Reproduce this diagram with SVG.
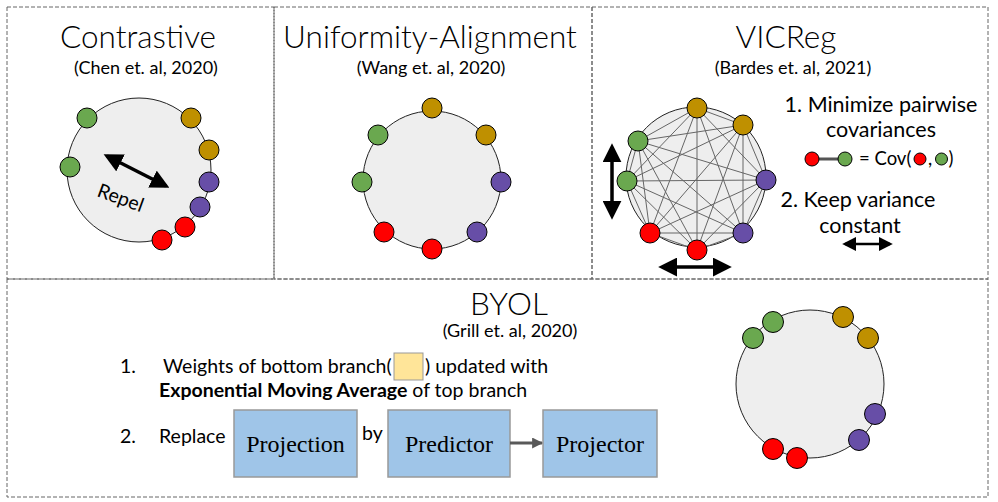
<svg xmlns="http://www.w3.org/2000/svg" width="998" height="502" viewBox="0 0 998 502">
<style>
.panel{fill:none;stroke:#666;stroke-width:1;stroke-dasharray:4 2}
.title{font-family:Lato,"Open Sans",sans-serif;font-size:31.5px;font-weight:300;fill:#000;text-anchor:middle}
.sub{font-family:Lato,"Open Sans",sans-serif;font-size:18px;fill:#000;text-anchor:middle}
.txt{font-family:Lato,"Open Sans",sans-serif;font-size:19.5px;fill:#000}
.vtx{font-family:Lato,"Open Sans",sans-serif;font-size:21.5px;fill:#000;text-anchor:middle}
.cov{font-family:Lato,"Open Sans",sans-serif;font-size:18.5px;fill:#000}
.big{fill:#eeeeee;stroke:#222;stroke-width:1}
.g{fill:#6aa84f;stroke:#000;stroke-width:1}
.y{fill:#bf9000;stroke:#000;stroke-width:1}
.p{fill:#674ea7;stroke:#000;stroke-width:1}
.r{fill:#ff0000;stroke:#000;stroke-width:1}
.box{fill:#9fc5e8;stroke:#999;stroke-width:1.5}
.blab{font-family:"Liberation Serif","Times New Roman",serif;font-size:24px;fill:#000;text-anchor:middle}
.dbl{stroke:#000;stroke-width:3.5;fill:none}
.edge{stroke:#666;stroke-width:1}
</style>
<defs>
<marker id="ah" viewBox="0 0 10 10" refX="8" refY="5" markerUnits="userSpaceOnUse" markerWidth="19" markerHeight="19" orient="auto-start-reverse">
<path d="M0,0 L10,5 L0,10 z" fill="#000"/>
</marker>
<marker id="ahs" viewBox="0 0 10 10" refX="8" refY="5" markerUnits="userSpaceOnUse" markerWidth="14" markerHeight="14" orient="auto-start-reverse">
<path d="M0,0 L10,5 L0,10 z" fill="#000"/>
</marker>
<marker id="gh" viewBox="0 0 10 10" refX="9" refY="5" markerUnits="userSpaceOnUse" markerWidth="11" markerHeight="11" orient="auto">
<path d="M0,0 L10,5 L0,10 z" fill="#595959"/>
</marker>
</defs>

<g id="panels">
<rect class="panel" x="7" y="7" width="267" height="272"/>
<rect class="panel" x="274" y="7" width="318" height="272"/>
<rect class="panel" x="592" y="7" width="396" height="272"/>
<rect class="panel" x="7" y="279" width="981" height="218"/>
</g>

<g id="contrastive">
<text class="title" x="138" y="48">Contrastive</text>
<text class="sub" x="146" y="74">(Chen et. al, 2020)</text>
<circle class="big" cx="139" cy="170" r="72"/>
<circle class="g" cx="87" cy="118" r="10"/>
<circle class="g" cx="70" cy="167" r="10"/>
<circle class="y" cx="191" cy="118" r="10"/>
<circle class="y" cx="209" cy="150" r="10"/>
<circle class="p" cx="209" cy="182" r="10"/>
<circle class="p" cx="200" cy="207" r="10"/>
<circle class="r" cx="185" cy="227" r="10"/>
<circle class="r" cx="162" cy="240" r="10"/>
<line class="dbl" x1="107" y1="156" x2="166" y2="186" marker-start="url(#ah)" marker-end="url(#ah)"/>
<text class="txt" x="0" y="0" transform="translate(96,196) rotate(20)">Repel</text>
</g>

<g id="uniformity">
<text class="title" x="430" y="48">Uniformity-Alignment</text>
<text class="sub" x="431" y="74">(Wang et. al, 2020)</text>
<circle class="big" cx="432" cy="180" r="69"/>
<circle class="y" cx="432" cy="108" r="10"/>
<circle class="y" cx="486" cy="135" r="10"/>
<circle class="p" cx="501" cy="182" r="10"/>
<circle class="p" cx="477" cy="232" r="10"/>
<circle class="r" cx="432" cy="249" r="10"/>
<circle class="r" cx="384" cy="232" r="10"/>
<circle class="g" cx="362" cy="182" r="10"/>
<circle class="g" cx="378" cy="135" r="10"/>
</g>

<g id="vicreg">
<text class="title" x="786" y="48">VICReg</text>
<text class="sub" x="793" y="74">(Bardes et. al, 2021)</text>
<circle class="big" cx="696" cy="177" r="70" stroke-width="1.5"/>
<g id="vic-edges">
<line class="edge" x1="697" y1="108" x2="743" y2="125"/>
<line class="edge" x1="697" y1="108" x2="766" y2="180"/>
<line class="edge" x1="697" y1="108" x2="743" y2="233"/>
<line class="edge" x1="697" y1="108" x2="697" y2="250"/>
<line class="edge" x1="697" y1="108" x2="650" y2="233"/>
<line class="edge" x1="697" y1="108" x2="627" y2="181"/>
<line class="edge" x1="697" y1="108" x2="638" y2="141"/>
<line class="edge" x1="743" y1="125" x2="766" y2="180"/>
<line class="edge" x1="743" y1="125" x2="743" y2="233"/>
<line class="edge" x1="743" y1="125" x2="697" y2="250"/>
<line class="edge" x1="743" y1="125" x2="650" y2="233"/>
<line class="edge" x1="743" y1="125" x2="627" y2="181"/>
<line class="edge" x1="743" y1="125" x2="638" y2="141"/>
<line class="edge" x1="766" y1="180" x2="743" y2="233"/>
<line class="edge" x1="766" y1="180" x2="697" y2="250"/>
<line class="edge" x1="766" y1="180" x2="650" y2="233"/>
<line class="edge" x1="766" y1="180" x2="627" y2="181"/>
<line class="edge" x1="766" y1="180" x2="638" y2="141"/>
<line class="edge" x1="743" y1="233" x2="697" y2="250"/>
<line class="edge" x1="743" y1="233" x2="650" y2="233"/>
<line class="edge" x1="743" y1="233" x2="627" y2="181"/>
<line class="edge" x1="743" y1="233" x2="638" y2="141"/>
<line class="edge" x1="697" y1="250" x2="650" y2="233"/>
<line class="edge" x1="697" y1="250" x2="627" y2="181"/>
<line class="edge" x1="697" y1="250" x2="638" y2="141"/>
<line class="edge" x1="650" y1="233" x2="627" y2="181"/>
<line class="edge" x1="650" y1="233" x2="638" y2="141"/>
<line class="edge" x1="627" y1="181" x2="638" y2="141"/>
</g>
<circle class="y" cx="697" cy="108" r="10"/>
<circle class="y" cx="743" cy="125" r="10"/>
<circle class="p" cx="766" cy="180" r="10"/>
<circle class="p" cx="743" cy="233" r="10"/>
<circle class="r" cx="697" cy="250" r="10"/>
<circle class="r" cx="650" cy="233" r="10"/>
<circle class="g" cx="627" cy="181" r="10"/>
<circle class="g" cx="638" cy="141" r="10"/>
<line class="dbl" x1="612" y1="147" x2="612" y2="216" marker-start="url(#ah)" marker-end="url(#ah)"/>
<line class="dbl" x1="662" y1="267" x2="728" y2="267" marker-start="url(#ah)" marker-end="url(#ah)"/>
<text class="vtx" x="881" y="112">1. Minimize pairwise</text>
<text class="vtx" x="881" y="137">covariances</text>
<line x1="812" y1="159" x2="845" y2="159" stroke="#555" stroke-width="3"/>
<circle class="r" cx="812" cy="159" r="7"/>
<circle class="g" cx="845" cy="159" r="7"/>
<text class="cov" x="859" y="165">= Cov(</text>
<circle class="r" cx="920" cy="159" r="6"/>
<text class="cov" x="928" y="165">,</text>
<circle class="g" cx="941.5" cy="159" r="6"/>
<text class="cov" x="948.5" y="165">)</text>
<text class="vtx" x="858" y="207">2. Keep variance</text>
<text class="vtx" x="860" y="233">constant</text>
<line x1="845" y1="244" x2="890" y2="244" stroke="#000" stroke-width="2.5" marker-start="url(#ahs)" marker-end="url(#ahs)"/>
</g>

<g id="byol">
<text class="title" x="509" y="315">BYOL</text>
<text class="sub" x="510" y="337">(Grill et. al, 2020)</text>
<text class="txt" x="120" y="373">1.</text>
<text class="txt" x="163" y="373">Weights of bottom branch(</text>
<rect x="394" y="353" width="29" height="27" fill="#ffe599" stroke="#999" stroke-width="1"/>
<text class="txt" x="425" y="373">) updated with</text>
<text class="txt" x="159" y="397"><tspan font-weight="bold">Exponential Moving Average</tspan> of top branch</text>
<text class="txt" x="120" y="443">2.</text>
<text class="txt" x="159" y="443">Replace</text>
<text class="txt" x="362" y="440">by</text>
<circle class="big" cx="810" cy="384" r="74"/>
<circle class="g" cx="753" cy="338" r="10.5"/>
<circle class="g" cx="773" cy="322" r="10.5"/>
<circle class="y" cx="843" cy="317" r="10.5"/>
<circle class="y" cx="868" cy="338" r="10.5"/>
<circle class="p" cx="875" cy="414" r="10.5"/>
<circle class="p" cx="859" cy="440" r="10.5"/>
<circle class="r" cx="773" cy="449" r="10.5"/>
<circle class="r" cx="797" cy="458" r="10.5"/>
</g>

<g id="node-projection">
<rect class="box" x="234" y="410" width="123" height="67"/>
<text class="blab" x="295.5" y="452">Projection</text>
</g>
<g id="node-predictor">
<rect class="box" x="388" y="410" width="122" height="67"/>
<text class="blab" x="449" y="452">Predictor</text>
</g>
<g id="node-projector">
<rect class="box" x="543" y="410" width="114" height="67"/>
<text class="blab" x="600" y="452">Projector</text>
</g>

<g id="connectors">
<line x1="510" y1="443" x2="542" y2="443" stroke="#595959" stroke-width="3" marker-end="url(#gh)"/>
</g>
</svg>
